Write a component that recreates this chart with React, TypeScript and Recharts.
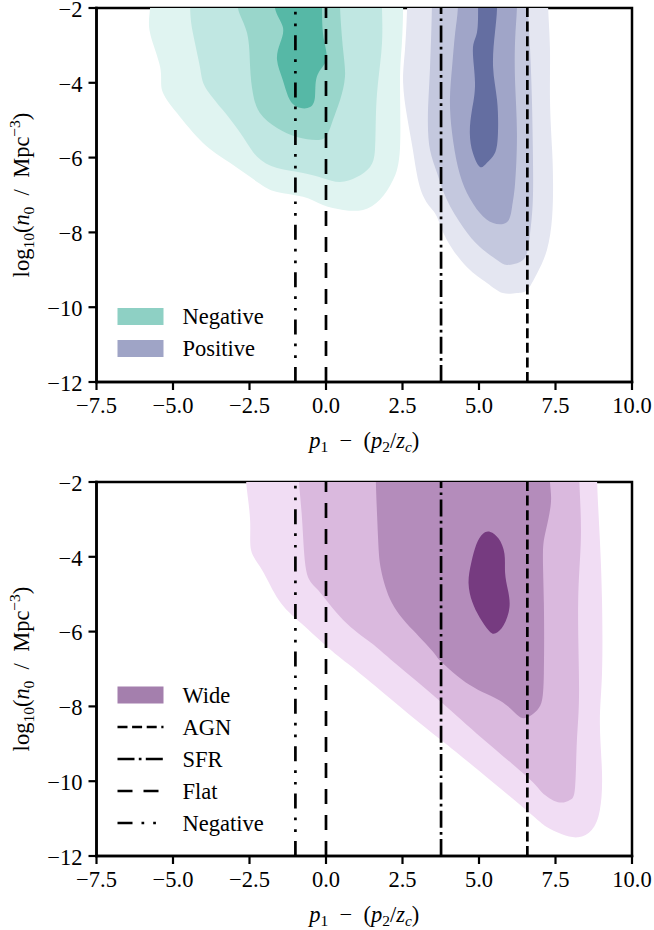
import React from 'react';
import { ComposedChart, Scatter, XAxis, YAxis, Customized } from 'recharts';

type Pair = [number, number];

// ---------- axes ----------
const xTicks = [-7.5, -5, -2.5, 0, 2.5, 5, 7.5, 10];
const yTicks = [-12, -10, -8, -6, -4, -2];
const xDomain: [number, number] = [-7.5, 10];
const yDomain: [number, number] = [-12, -2];

// ---------- top panel: Negative KDE levels (outer -> inner) ----------
const negLevel1: Pair[] = [[-5.75,-1.2],[-5.75,-2],[-5.75,-2.67],[-5.42,-3.58],[-5.36,-4.19],[-4.87,-4.81],[-4.02,-5.61],[-3.14,-6.14],[-2.25,-6.65],[-1.6,-6.92],[-0.75,-7.05],[-0.1,-7.27],[0.56,-7.4],[1.21,-7.4],[1.76,-7.13],[2.19,-6.6],[2.42,-5.72],[2.42,-4.0],[2.48,-2.94],[2.52,-2],[2.52,-1.2]];
const negLevel2: Pair[] = [[-4.44,-1.2],[-4.44,-2],[-4.35,-2.67],[-4.12,-3.58],[-3.95,-4.11],[-3.37,-4.73],[-2.71,-5.45],[-2.25,-5.98],[-1.6,-6.28],[-0.75,-6.41],[-0.1,-6.55],[0.46,-6.65],[1.01,-6.52],[1.44,-6.25],[1.6,-5.8],[1.63,-4.91],[1.7,-4.0],[1.83,-2.94],[1.83,-2],[1.83,-1.2]];
const negLevel3: Pair[] = [[-2.88,-1.2],[-2.88,-2],[-2.58,-2.67],[-2.48,-3.58],[-2.39,-4.27],[-2.16,-4.81],[-1.6,-5.21],[-0.95,-5.45],[-0.3,-5.53],[0.03,-5.4],[0.23,-4.99],[0.46,-4.46],[0.62,-3.84],[0.56,-3.12],[0.46,-2],[0.46,-1.2]];
const negLevel4: Pair[] = [[-1.67,-1.2],[-1.67,-2],[-1.41,-2.51],[-1.5,-2.94],[-1.6,-3.39],[-1.41,-3.93],[-1.18,-4.46],[-0.85,-4.67],[-0.52,-4.65],[-0.36,-4.38],[-0.3,-3.84],[-0.03,-3.47],[0.0,-3.12],[-0.1,-2.67],[-0.13,-2],[-0.13,-1.2]];

// ---------- top panel: Positive KDE levels ----------
const posLevel1: Pair[] = [[2.65,-1.2],[2.65,-2],[2.58,-3.12],[2.52,-4.0],[2.65,-4.91],[2.84,-5.8],[3.07,-6.79],[3.4,-7.32],[3.63,-7.59],[3.95,-8.2],[4.61,-8.93],[5.26,-9.35],[5.78,-9.62],[6.24,-9.62],[6.57,-9.54],[6.9,-9.09],[7.22,-8.47],[7.39,-7.59],[7.42,-6.68],[7.39,-5.8],[7.32,-4.46],[7.32,-3.12],[7.26,-2],[7.26,-1.2]];
const posLevel2: Pair[] = [[3.46,-1.2],[3.46,-2],[3.4,-3.58],[3.33,-4.91],[3.4,-5.8],[3.63,-6.41],[3.95,-7.13],[4.48,-7.86],[5.03,-8.39],[5.59,-8.74],[5.91,-8.87],[6.34,-8.79],[6.57,-8.55],[6.67,-8.02],[6.76,-7.13],[6.76,-5.8],[6.73,-4.46],[6.67,-3.12],[6.6,-2],[6.6,-1.2]];
const posLevel3: Pair[] = [[4.31,-1.2],[4.31,-2],[4.22,-2.67],[4.12,-3.58],[4.05,-4.46],[4.12,-5.34],[4.31,-6.25],[4.61,-6.95],[5.03,-7.48],[5.46,-7.75],[5.92,-7.72],[6.08,-7.32],[6.18,-6.68],[6.24,-5.34],[6.18,-4.0],[6.18,-2.86],[6.24,-2],[6.24,-1.2]];
const posLevel4: Pair[] = [[4.97,-1.2],[4.97,-2],[4.93,-2.67],[4.8,-3.12],[4.87,-4.0],[4.77,-4.73],[4.7,-5.34],[4.8,-5.88],[5.03,-6.25],[5.26,-6.14],[5.52,-5.88],[5.62,-5.34],[5.59,-4.46],[5.46,-3.58],[5.52,-2.67],[5.59,-2],[5.59,-1.2]];

// ---------- bottom panel: Wide KDE levels ----------
const wideLevel1: Pair[] = [[-2.61,-1.2],[-2.61,-2],[-2.48,-3.02],[-2.45,-3.82],[-2.09,-4.35],[-1.54,-5.16],[-0.82,-5.77],[0.1,-6.45],[0.78,-6.9],[1.6,-7.45],[2.7,-8.2],[3.76,-8.9],[5.0,-9.72],[6.58,-10.8],[7.2,-11.22],[7.71,-11.42],[8.24,-11.5],[8.69,-11.3],[8.95,-10.77],[9.02,-9.78],[8.95,-8.44],[9.02,-7.11],[9.02,-5.16],[8.95,-3.55],[8.86,-2],[8.86,-1.2]];
const wideLevel2: Pair[] = [[-0.88,-1.2],[-0.88,-2],[-0.78,-3.02],[-0.65,-4.35],[-0.26,-4.89],[0.56,-5.69],[1.47,-6.3],[2.25,-6.84],[3.76,-7.88],[5.1,-8.85],[6.58,-9.89],[7.06,-10.3],[7.58,-10.56],[7.97,-10.5],[8.14,-10.16],[8.2,-8.9],[8.27,-7.56],[8.24,-5.24],[8.33,-3.47],[8.28,-2],[8.28,-1.2]];
const wideLevel3: Pair[] = [[1.63,-1.2],[1.63,-2],[1.7,-3.47],[1.8,-4.35],[2.16,-5.24],[2.84,-5.96],[3.53,-6.57],[3.76,-6.8],[4.7,-7.43],[5.69,-7.85],[6.24,-8.22],[6.55,-8.3],[6.9,-8.1],[7.06,-7.83],[7.12,-7.1],[7.12,-5.24],[7.09,-3.9],[7.19,-3.28],[7.35,-2.56],[7.32,-2],[7.32,-1.2]];
const wideLevel4: Pair[] = [[5.13,-3.34],[4.9,-3.63],[4.74,-4.17],[4.61,-4.7],[4.77,-5.24],[5.0,-5.61],[5.36,-6.04],[5.52,-6.09],[5.82,-5.88],[6.05,-5.34],[5.95,-4.89],[5.82,-4.43],[5.88,-3.9],[5.65,-3.47],[5.36,-3.3]];

// ---------- vertical reference models ----------
const refNames = ['AGN', 'SFR', 'Flat', 'Negative'];
const refX = [6.58, 3.76, 0, -1];

const topLegendLabels = ['Negative', 'Positive'];
const bottomLegendLabels = ['Wide', 'AGN', 'SFR', 'Flat', 'Negative'];

// ---------- styles ----------
const FONT = "'Liberation Serif', 'DejaVu Serif', serif";
const FS = 22.5;
const SUB = 15.5;
const LW = 2.7;
const DASH: Record<string, string> = {
  AGN: '10 4.6',
  SFR: '17 4.3 2.7 4.3',
  Flat: '15 11',
  Negative: '15 9 2.7 9 2.7 9',
};
const tealColors = ['#e0f4f1', '#c0e7e2', '#99d6cb', '#56b8a6'];
const blueColors = ['#e4e6f1', '#c4c8de', '#a0a5c8', '#646ea1'];
const purpleColors = ['#f1ddf4', '#dab9de', '#b48cbb', '#763b80'];
const legendPatch: Record<string, string> = { Negative: '#8ed0c4', Positive: '#9fa4c6', Wide: '#a47fad' };

const toPts = (a: Pair[]) => a.map(([x, y]) => ({ x, y }));
const fmtX = (v: number) => (v < 0 ? '\u2212' : '') + Math.abs(v).toFixed(1);
const fmtY = (v: number) => (v < 0 ? '\u2212' : '') + String(Math.abs(v));

type Layer = { data: Pair[]; color: string; closed?: boolean };

const topLayers: Layer[] = [
  { data: negLevel1, color: tealColors[0] },
  { data: negLevel2, color: tealColors[1] },
  { data: negLevel3, color: tealColors[2] },
  { data: negLevel4, color: tealColors[3] },
  { data: posLevel1, color: blueColors[0] },
  { data: posLevel2, color: blueColors[1] },
  { data: posLevel3, color: blueColors[2] },
  { data: posLevel4, color: blueColors[3] },
];
const bottomLayers: Layer[] = [
  { data: wideLevel1, color: purpleColors[0] },
  { data: wideLevel2, color: purpleColors[1] },
  { data: wideLevel3, color: purpleColors[2] },
  { data: wideLevel4, color: purpleColors[3], closed: true },
];

const noShape = () => <g />;
const textStyle = { fontFamily: FONT, fontSize: FS, fill: '#000' };

const XTick = (props: any) => (
  <text x={props.x} y={props.y} dy={16.5} textAnchor="middle" style={textStyle}>
    {fmtX(props.payload.value)}
  </text>
);
const YTick = (props: any) => (
  <text x={props.x} y={props.y} dy={8.8} textAnchor="end" style={textStyle}>
    {fmtY(props.payload.value)}
  </text>
);

const NB = '\u00a0';
const EN = '\u2002';
const PLOT_LEFT = 96.5;
const PLOT_RIGHT = 632;

const AxisLabels = ({ plotTop, plotBottom, xLabelY }: { plotTop: number; plotBottom: number; xLabelY: number }) => {
  const cy = (plotTop + plotBottom) / 2;
  const lx = 29;
  return (
    <g>
      <text x={(PLOT_LEFT + PLOT_RIGHT) / 2} y={xLabelY} textAnchor="middle" style={textStyle}>
        <tspan fontStyle="italic">p</tspan>
        <tspan fontSize={SUB} dy={4}>1</tspan>
        <tspan dy={-4}>{`${EN}\u2212${EN}(`}</tspan>
        <tspan fontStyle="italic">p</tspan>
        <tspan fontSize={SUB} dy={4}>2</tspan>
        <tspan dy={-4}>/</tspan>
        <tspan fontStyle="italic">z</tspan>
        <tspan fontSize={SUB} fontStyle="italic" dy={4}>c</tspan>
        <tspan dy={-4}>)</tspan>
      </text>
      <text x={lx} y={cy} textAnchor="middle" transform={`rotate(-90 ${lx} ${cy})`} style={textStyle}>
        <tspan>log</tspan>
        <tspan fontSize={SUB} dy={5}>10</tspan>
        <tspan dy={-5}>(</tspan>
        <tspan fontStyle="italic">n</tspan>
        <tspan fontSize={SUB} dy={5}>0</tspan>
        <tspan dy={-5}>{`${NB}${NB}/${NB}${NB}Mpc`}</tspan>
        <tspan fontSize={SUB} dy={-9}>{'\u22123'}</tspan>
        <tspan dy={9}>)</tspan>
      </text>
      <rect
        x={PLOT_LEFT}
        y={plotTop}
        width={PLOT_RIGHT - PLOT_LEFT}
        height={plotBottom - plotTop}
        fill="none"
        stroke="#000"
        strokeWidth={2.5}
      />
    </g>
  );
};

const LegendBlock = ({ labels, top }: { labels: string[]; top: number }) => {
  const x0 = 117.5;
  const w = 46;
  const step = 32;
  return (
    <g>
      {labels.map((lab, i) => {
        const cy = top + i * step;
        const isPatch = legendPatch[lab] !== undefined && (i === 0 || labels[0] !== 'Wide');
        return (
          <g key={lab + i}>
            {isPatch ? (
              <rect x={x0} y={cy - 8.5} width={w} height={17} fill={legendPatch[lab]} />
            ) : (
              <line x1={x0} x2={x0 + w} y1={cy} y2={cy} stroke="#000" strokeWidth={LW} strokeDasharray={DASH[lab]} />
            )}
            <text x={182.5} y={cy + 7.5} style={textStyle}>{lab}</text>
          </g>
        );
      })}
    </g>
  );
};

const axisLineStyle = { stroke: '#000', strokeWidth: 2.5, strokeLinecap: 'square' as const };
const tickLineStyle = { stroke: '#000', strokeWidth: 2.2 };

function Panel({ layers, legendLabels, legendTop, marginTop, marginBottom, xLabelY }: any) {
  const plotTop = marginTop;
  const plotBottom = 465 - marginBottom - 50;
  return (
    <ComposedChart width={654} height={465} margin={{ top: marginTop, right: 654 - PLOT_RIGHT, bottom: marginBottom, left: 0 }}>
      <XAxis
        type="number"
        dataKey="x"
        domain={xDomain}
        ticks={xTicks}
        interval={0}
        allowDataOverflow
        height={50}
        tickSize={8}
        tickMargin={6}
        tick={<XTick />}
        tickLine={tickLineStyle}
        axisLine={axisLineStyle}
      />
      <YAxis
        type="number"
        dataKey="y"
        domain={yDomain}
        ticks={yTicks}
        interval={0}
        allowDataOverflow
        width={PLOT_LEFT}
        tickSize={8}
        tickMargin={6}
        tick={<YTick />}
        tickLine={tickLineStyle}
        axisLine={axisLineStyle}
      />
      {layers.map((l: Layer, i: number) => (
        <Scatter
          key={'layer' + i}
          data={toPts(l.data)}
          fill={l.color}
          line={{ fill: l.color, stroke: 'none' }}
          lineType="joint"
          lineJointType={l.closed ? 'basisClosed' : 'natural'}
          shape={noShape}
          isAnimationActive={false}
          legendType="none"
        />
      ))}
      {refNames.map((n, i) => (
        <Scatter
          key={'ref' + n}
          data={[{ x: refX[i], y: yDomain[0] }, { x: refX[i], y: yDomain[1] }]}
          fill="#000"
          line={{ stroke: '#000', strokeWidth: LW, strokeDasharray: DASH[n], fill: 'none' }}
          lineType="joint"
          lineJointType="linear"
          shape={noShape}
          isAnimationActive={false}
          legendType="none"
        />
      ))}
      <Customized component={<AxisLabels plotTop={plotTop} plotBottom={plotBottom} xLabelY={xLabelY} />} />
      <Customized component={<LegendBlock labels={legendLabels} top={legendTop} />} />
    </ComposedChart>
  );
}

export default function App() {
  return (
    <div style={{ position: 'absolute', left: 0, top: 0, width: 654, height: 930, background: '#fff' }}>
      <Panel layers={topLayers} legendLabels={topLegendLabels} legendTop={316.5} marginTop={8} marginBottom={33} xLabelY={448} />
      <Panel layers={bottomLayers} legendLabels={bottomLegendLabels} legendTop={230} marginTop={17} marginBottom={24} xLabelY={457} />
    </div>
  );
}
